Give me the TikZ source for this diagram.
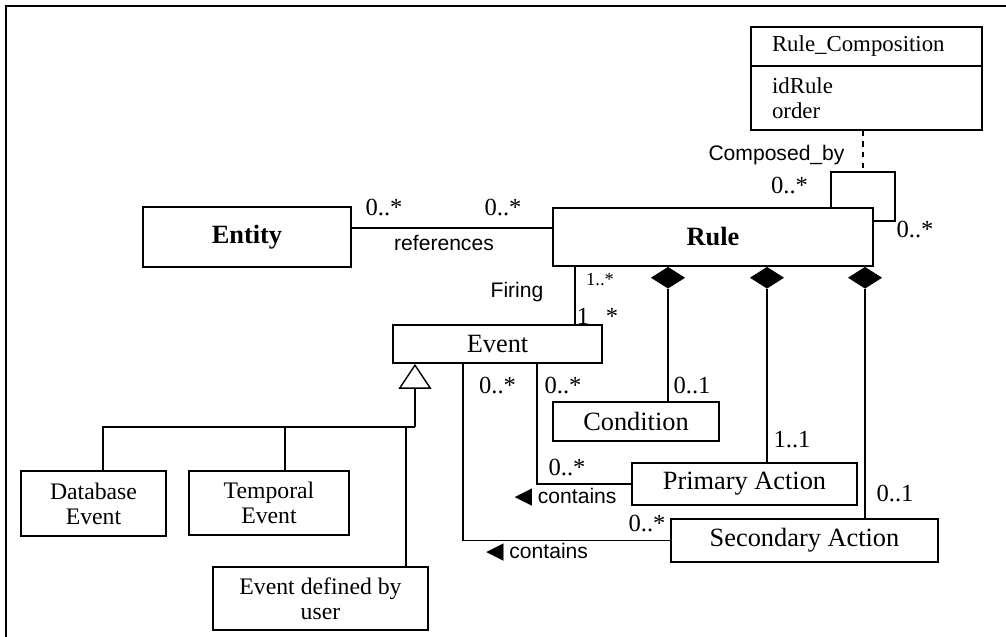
\documentclass[tikz,border=0pt]{standalone}
\usepackage{fontspec}
\setmainfont{Liberation Serif}
\setsansfont{Liberation Sans}
\newfontfamily\symfont{DejaVu Sans}
\usepackage{tikz}
\usetikzlibrary{shapes.geometric, arrows.meta, positioning, calc}

\begin{document}
\begin{tikzpicture}[
  cls/.style={rectangle, draw, line width=1pt, inner sep=0pt,
              font=\fontsize{15}{17}\selectfont},
  sub/.style={cls, align=center, font=\fontsize{13.5}{14.2}\selectfont},
  rcbox/.style={cls, minimum width=4.62cm, text width=3.78cm,
                inner xsep=0.42cm, align=left,
                font=\fontsize{13}{14.2}\selectfont},
  mult/.style={inner sep=0pt, font=\fontsize{14}{16}\selectfont},
  lbl/.style={inner sep=0pt, font=\sffamily\fontsize{12}{14}\selectfont},
  comp/.style={diamond, draw, fill=black, inner sep=0pt,
               minimum width=0.66cm, minimum height=0.42cm},
  link/.style={line width=0.8pt}
]
\useasboundingbox (0,0) rectangle (20.12,-12.72);
\draw[line width=1.7pt] (0.12,-12.9) -- (0.12,-0.12) -- (20.3,-0.12);

% classes
\node[cls, minimum width=4.16cm, minimum height=1.2cm, font=\bfseries\fontsize{15}{17}\selectfont]
  (entity) at (4.94,-4.74) {Entity};
\node[cls, minimum width=6.4cm, minimum height=1.16cm, font=\bfseries\fontsize{15}{17}\selectfont]
  (rule) at (14.26,-4.74) {Rule};
\node[rcbox, minimum height=0.78cm] (rcname) at (17.33,-0.93) {Rule\_Composition};
\node[rcbox, minimum height=1.28cm, anchor=north] (rcattr) at ([yshift=1pt]rcname.south) {idRule\\order};
\node[cls, minimum width=4.18cm, minimum height=0.76cm] (event) at (9.95,-6.88) {Event};
\node[cls, minimum width=3.32cm, minimum height=0.78cm] (cond) at (12.72,-8.43) {Condition};
\node[cls, minimum width=4.5cm, minimum height=0.84cm] (prim) at (14.89,-9.68) {Primary Action};
\node[cls, minimum width=5.34cm, minimum height=0.86cm] (sec) at (16.09,-10.81) {Secondary Action};
\node[sub, minimum width=2.9cm, minimum height=1.3cm] (dbev) at (1.87,-10.07) {Database\\Event};
\node[sub, minimum width=3.2cm, minimum height=1.28cm] (tempev) at (5.38,-10.06) {Temporal\\Event};
\node[sub, minimum width=4.3cm, minimum height=1.26cm] (userev) at (6.41,-11.97) {Event defined by\\user};

% references
\draw[link] ([yshift=0.18cm]entity.east) -- ([yshift=0.18cm]rule.west);
\node[mult] (mref1) at (7.68,-4.14) {0..*};
\node[mult] (mref2) at (10.06,-4.14) {0..*};
\node[lbl] (lref) at (8.88,-4.86) {references};

% composed_by
\coordinate (loop) at (17.9,-3.44);
\coordinate (cmid) at (17.26,-3.44);
\draw[link] ([xshift=2.36cm]rule.north) |- (loop) |- ([yshift=0.32cm]rule.east);
\draw[link, dashed] (rcattr.south -| cmid) -- (cmid);
\node[lbl] (lcomp) at (15.53,-3.1) {Composed\_by};
\node[mult] (mcomp1) at (15.79,-3.7) {0..*};
\node[mult] (mcomp2) at (18.3,-4.58) {0..*};

% firing
\coordinate (fire) at (11.5,-6);
\draw[link] (rule.south -| fire) -- (event.north -| fire);
\node[lbl] (lfire) at (10.34,-5.84) {Firing};
\node[inner sep=0pt, font=\fontsize{10.5}{12}\selectfont] (mfire1) at (12.0,-5.6) {1..*};
\node[mult] (mfire2) at (11.66,-6.32) {1};
\node[mult] (mfire3) at (12.24,-6.32) {*};

% composition
\node[comp, anchor=north] (d1) at ([xshift=-0.9cm]rule.south) {};
\node[comp, anchor=north] (d2) at ([xshift=1.08cm]rule.south) {};
\node[comp, anchor=north] (d3) at ([xshift=3.04cm]rule.south) {};
\draw[link] (d1.south) -- (d1.south |- cond.north);
\draw[link] (d2.south) -- (d2.south |- prim.north);
\draw[link] (d3.south) -- (d3.south |- sec.north);
\node[mult] (mc1) at (13.84,-7.7) {0..1};
\node[mult] (mc2) at (15.84,-8.8) {1..1};
\node[mult] (mc3) at (17.9,-9.86) {0..1};

% contains
\draw[link] ([xshift=0.79cm]event.south) |- (prim.west);
\draw[link] ([xshift=-0.69cm]event.south) |- (sec.west);
\node[mult] (mev1) at (9.95,-7.7) {0..*};
\node[mult] (mev2) at (11.26,-7.7) {0..*};
\node[mult] (mprim) at (11.34,-9.34) {0..*};
\node[mult] (msec) at (12.94,-10.46) {0..*};
\node[lbl] (lcont1) at (11.31,-9.94) {{\symfont\fontsize{13}{14}\selectfont ◀}\ contains};
\node[lbl] (lcont2) at (10.74,-11.04) {{\symfont\fontsize{13}{14}\selectfont ◀}\ contains};

% generalization
\coordinate (gen) at (8.3,-8.54);
\draw[link, -{Triangle[open, width=0.66cm, length=0.5cm]}] (gen) -- (gen |- event.south);
\draw[link] ([xshift=0.19cm]dbev.north) |- (gen);
\draw[link] ([xshift=0.32cm]tempev.north) |- (gen);
\draw[link] ([xshift=1.71cm]userev.north) |- (gen);
\end{tikzpicture}
\end{document}
